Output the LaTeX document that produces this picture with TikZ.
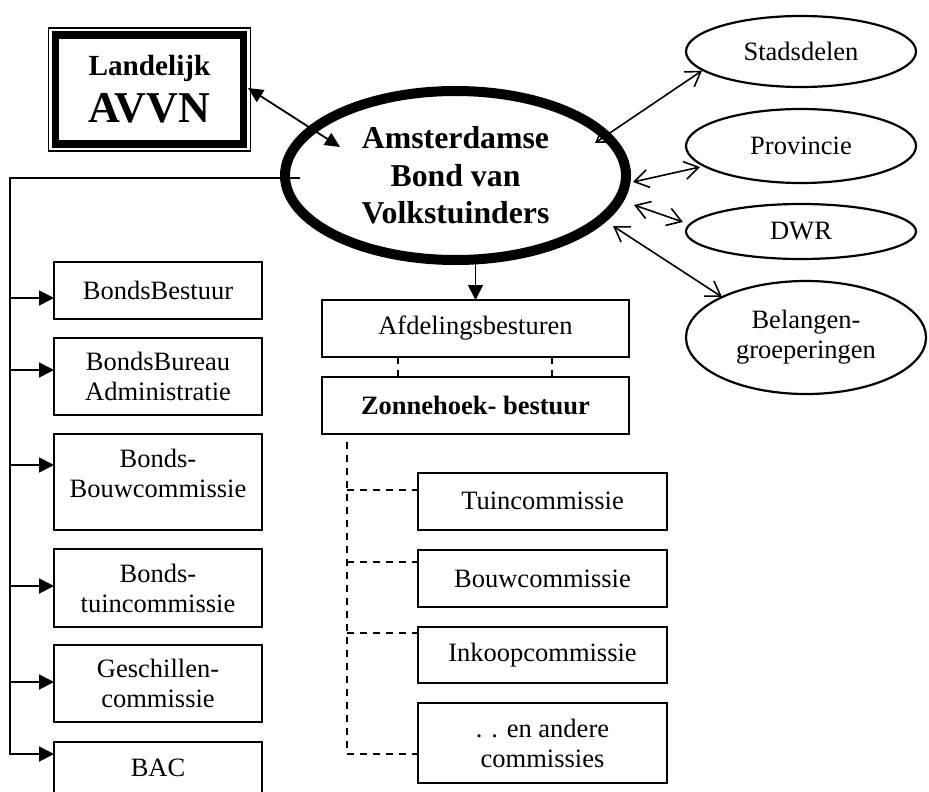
\documentclass[tikz,border=0pt]{standalone}
\usepackage{fontspec}
\setmainfont{Liberation Serif}
\usetikzlibrary{arrows.meta,shapes.geometric,calc}
\begin{document}
\begin{tikzpicture}[x=0.5pt,y=-0.5pt,
  every node/.style={inner sep=0pt, outer sep=0pt},
  nfont/.style={font=\fontsize{13.25}{15}\selectfont},
  box/.style={draw, line width=1pt, rectangle, align=center, nfont},
  lbox/.style={box, minimum width=104pt},
  sbox/.style={box, minimum width=124.5pt},
  mbox/.style={box, minimum width=153.5pt, minimum height=28.5pt},
  oval/.style={draw, ellipse, line width=1.1pt, align=center, nfont},
  conn/.style={line width=0.9pt},
  tri/.style={-{Triangle[length=7.5pt,width=7.5pt]}},
  barbs/.style={line width=0.8pt, {Straight Barb[length=7pt,width=9pt]}-{Straight Barb[length=7pt,width=9pt]}},
  dashline/.style={line width=0.9pt, dash pattern=on 3.5pt off 3pt}
]
\useasboundingbox (0,0) rectangle (929,791);
\clip (0,0) rectangle (929,791);

% Landelijk AVVN
\node[draw, line width=3.75pt, minimum width=94pt, minimum height=54.5pt, align=center,
  font=\fontsize{22}{23.5}\selectfont\bfseries]
  (land) at (149.5,89.5)
  {{\fontsize{14.6}{23.5}\selectfont\bfseries Landelijk}\\AVVN};
\draw[line width=0.75pt] ($(land.north west)+(-7,-7)$) rectangle ($(land.south east)+(7,7)$);

% central ellipse
\node[draw, ellipse, line width=5pt, minimum width=170.5pt, minimum height=84.5pt,
  align=center, font=\fontsize{15.9}{18.75}\selectfont\bfseries]
  (ams) at (455.5,175.5) {Amsterdamse\\Bond van\\Volkstuinders};

% right ellipses
\node[oval, minimum width=115pt, minimum height=35.5pt] (stad) at (801,51.5) {Stadsdelen};
\node[oval, minimum width=115pt, minimum height=37pt] (prov) at (801,146) {Provincie};
\node[oval, minimum width=115pt, minimum height=27.5pt] (dwr) at (801,231.5) {DWR};
\node[oval, minimum width=120pt, minimum height=56.5pt] (bel) at (806,337.5) {Belangen-\\groeperingen};

% left column
\node[lbox, minimum height=28.5pt] (bb) at (158,290.5) {BondsBestuur};
\node[lbox, minimum height=38.5pt] (bbu) at (158,376.5) {BondsBureau\\Administratie};
\node[lbox, minimum height=48pt, text depth=8.75pt] (bbc) at (158,482) {Bonds-\\Bouwcommissie};
\node[lbox, minimum height=39pt] (btc) at (158,588) {Bonds-\\tuincommissie};
\node[lbox, minimum height=38.5pt] (gc) at (158,683.5) {Geschillen-\\commissie};
\node[lbox, minimum height=25.5pt] (bac) at (158,767.5) {BAC};

% middle column
\node[mbox] (afd) at (475.5,328.5) {Afdelingsbesturen};
\node[mbox, font=\fontsize{13.25}{15}\selectfont\bfseries] (zon) at (475.5,405.5) {Zonnehoek- bestuur};

\node[sbox, minimum height=28.5pt] (tuin) at (542.5,501) {Tuincommissie};
\node[sbox, minimum height=28.5pt] (bouw) at (542.5,578.5) {Bouwcommissie};
\node[sbox, minimum height=28pt] (ink) at (542.5,655) {Inkoopcommissie};
\node[sbox, minimum height=40pt] (and) at (542.5,743) {. . en andere\\commissies};

% Landelijk <-> Amsterdamse
\draw[conn, {Triangle[length=7.5pt,width=7pt]}-{Triangle[length=7.5pt,width=7pt]}]
  ($(land.center)+(98.5,-1.5)$) -- ($(ams.center)+(-115.5,-28.5)$);

% right connectors
\draw[barbs] ($(ams.center)+(139.5,-32.5)$) -- ($(stad.center)+(-99,19.2)$);
\draw[barbs] ($(ams.center)+(177.5,6.5)$) -- ($(prov.center)+(-101,21)$);
\draw[barbs] ($(ams.center)+(178.5,29.5)$) -- ($(dwr.center)+(-118,-9.5)$);
\draw[barbs] ($(ams.center)+(157.5,50.5)$) -- ($(bel.center)+(-84,-40.5)$);

% left trunk
\coordinate (trs) at (300,178);
\coordinate (trc) at (10,178);
\coordinate (tre) at (10,754);
\coordinate (t1) at (10,298);
\coordinate (t2) at (10,370);
\coordinate (t3) at (10,465);
\coordinate (t4) at (10,586);
\coordinate (t5) at (10,682);
\draw[conn, tri] (trs) -- (trc) -- (tre) -- (tre -| bac.west);
\draw[conn, tri] (t1) -- (t1 -| bb.west);
\draw[conn, tri] (t2) -- (t2 -| bbu.west);
\draw[conn, tri] (t3) -- (t3 -| bbc.west);
\draw[conn, tri] (t4) -- (t4 -| btc.west);
\draw[conn, tri] (t5) -- (t5 -| gc.west);

% ams -> afd
\draw[conn, {Triangle[length=7.5pt,width=7.5pt]}-] (afd.north) -- (afd.north |- ams.south);

% afd -- zon dashed
\draw[dashline] ($(afd.south)+(-77.5,0)$) -- ($(zon.north)+(-77.5,0)$);
\draw[dashline] ($(afd.south)+(76.5,0)$) -- ($(zon.north)+(76.5,0)$);

% dashed tree
\coordinate (zt) at (347,442);
\coordinate (zb) at (347,754);
\coordinate (z1) at (347,490);
\coordinate (z2) at (347,562);
\coordinate (z3) at (347,633);
\draw[dashline] (zt) -- (zb) -- (zb -| and.west);
\draw[dashline] (z1) -- (z1 -| tuin.west);
\draw[dashline] (z2) -- (z2 -| bouw.west);
\draw[dashline] (z3) -- (z3 -| ink.west);
\end{tikzpicture}
\end{document}
